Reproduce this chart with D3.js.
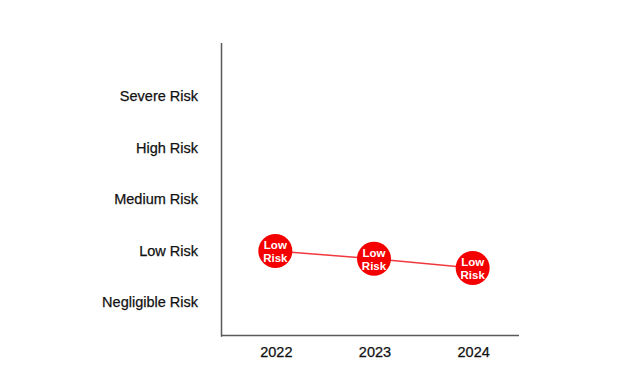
<!DOCTYPE html>
<html>
<head>
<meta charset="utf-8">
<script src="https://cdn.jsdelivr.net/npm/d3@7"></script>
<style>
html,body{margin:0;padding:0;background:#fff;}
svg{display:block;}
</style>
</head>
<body>
<svg id="chart" width="628" height="386"></svg>
<script>
const riskLevels = ["Negligible Risk", "Low Risk", "Medium Risk", "High Risk", "Severe Risk"];
const years = ["2022", "2023", "2024"];
const scores = [0.99, 0.84, 0.66];
const pointLabels = ["Low Risk", "Low Risk", "Low Risk"];

const svg = d3.select("#chart");
const x = d3.scalePoint().domain(years).range([226, 522]).padding(0.5);
const y = d3.scaleLinear().domain([-0.66, 5.03]).range([336, 43]);

const axisColor = "#5a5a5a";
svg.append("line").attr("x1", 221.5).attr("x2", 221.5).attr("y1", y.range()[1]).attr("y2", y.range()[0] + 0.75)
  .attr("stroke", axisColor).attr("stroke-width", 1.5);
svg.append("line").attr("x1", 221.5).attr("x2", 519).attr("y1", 335.5).attr("y2", 335.5)
  .attr("stroke", axisColor).attr("stroke-width", 1.5);

svg.append("g").selectAll("text").data(riskLevels).join("text")
  .attr("x", 198).attr("y", (d, i) => y(i)).attr("dy", "0.35em")
  .attr("text-anchor", "end")
  .attr("font-family", "Liberation Sans, Arial, sans-serif")
  .attr("font-size", 14.5).attr("fill", "#111")
  .attr("stroke", "#111").attr("stroke-width", 0.25)
  .text(d => d);

svg.append("g").selectAll("text").data(years).join("text")
  .attr("x", d => x(d) + 1).attr("y", 352).attr("dy", "0.35em")
  .attr("text-anchor", "middle")
  .attr("font-family", "Liberation Sans, Arial, sans-serif")
  .attr("font-size", 14.5).attr("fill", "#111")
  .attr("stroke", "#111").attr("stroke-width", 0.25)
  .text(d => d);

const data = years.map((yr, i) => ({year: yr, v: scores[i], label: pointLabels[i]}));

svg.append("path").datum(data)
  .attr("fill", "none").attr("stroke", "#f0393d").attr("stroke-width", 1.5)
  .attr("d", d3.line().x(d => x(d.year)).y(d => y(d.v)));

const g = svg.append("g").selectAll("g").data(data).join("g")
  .attr("transform", d => `translate(${x(d.year)},${y(d.v)})`);
g.append("circle").attr("r", 17).attr("fill", "#f50000");
g.each(function(d) {
  const words = d.label.split(" ");
  const t = d3.select(this).append("text")
    .attr("text-anchor", "middle")
    .attr("font-family", "Liberation Sans, Arial, sans-serif")
    .attr("font-weight", "bold").attr("font-size", 11.5).attr("fill", "#fff");
  words.forEach((w, i) => {
    t.append("tspan").attr("x", 0).attr("y", i === 0 ? -2 : 11).text(w);
  });
});
</script>
</body>
</html>
